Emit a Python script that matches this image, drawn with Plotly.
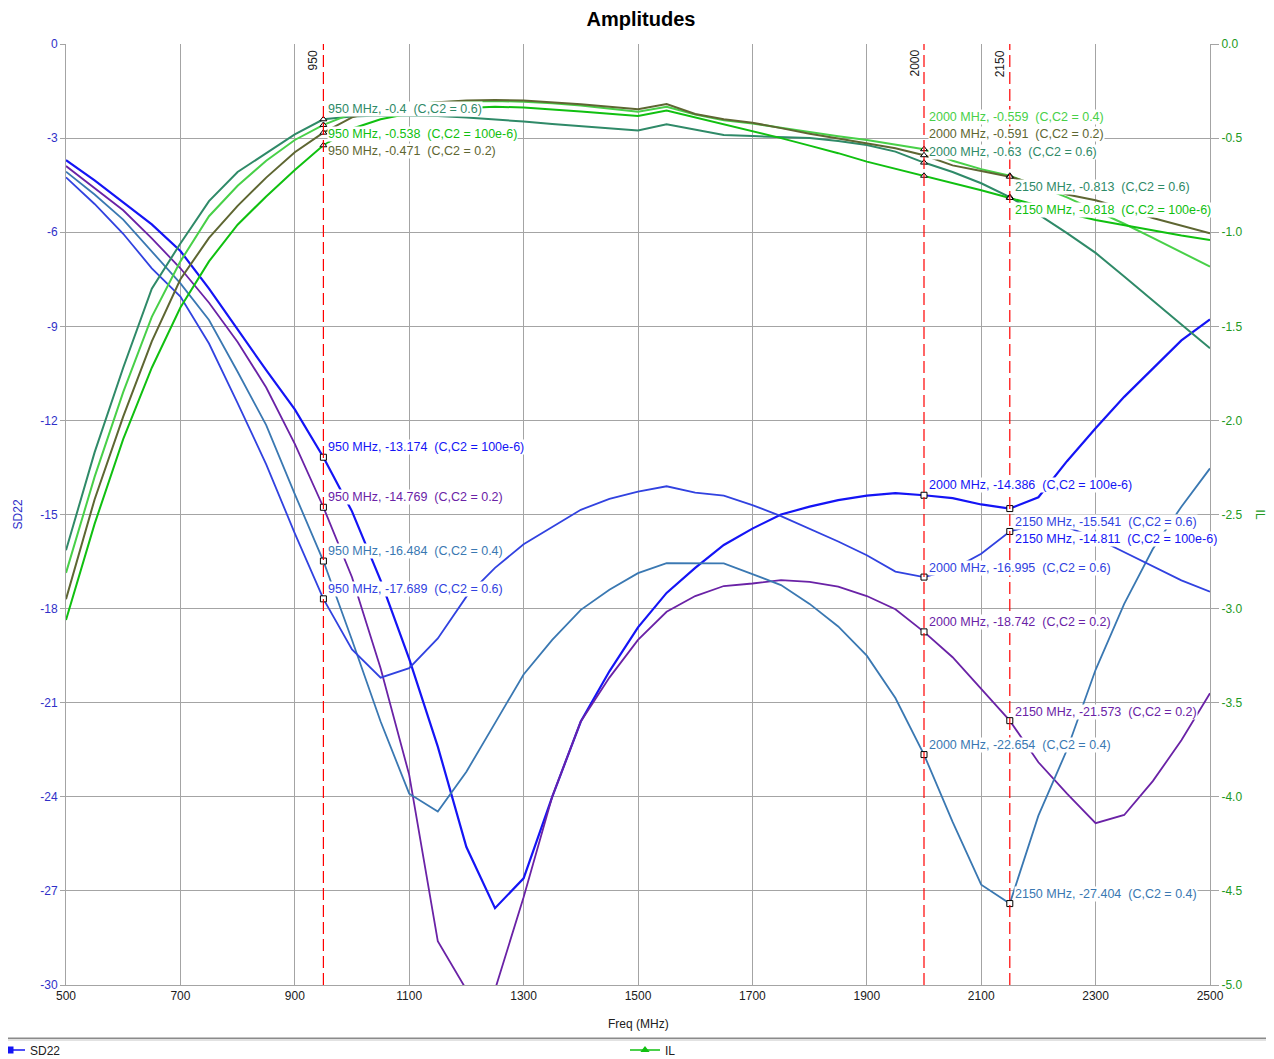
import plotly.graph_objects as go

# ---------------- data ----------------
freq = [500, 550, 600, 650, 700, 750, 800, 850, 900, 950,
        1000, 1050, 1100, 1150, 1200, 1250, 1300, 1350, 1400, 1450,
        1500, 1550, 1600, 1650, 1700, 1750, 1800, 1850, 1900, 1950,
        2000, 2050, 2100, 2150, 2200, 2250, 2300, 2350, 2400, 2450, 2500]

# SD22 (left axis, dB)
sd22_c100e6 = [-3.7, -4.35, -5.05, -5.75, -6.6, -7.8, -9.1, -10.4, -11.65, -13.174,
               -14.9, -17.1, -19.6, -22.4, -25.6, -27.55, -26.6, -24.0, -21.6, -20.0,
               -18.6, -17.5, -16.7, -15.97, -15.45, -15.0, -14.75, -14.54, -14.4, -14.32,
               -14.386, -14.48, -14.68, -14.811, -14.45, -13.3, -12.25, -11.25, -10.35, -9.45, -8.78]
sd22_c02 = [-3.89, -4.6, -5.3, -6.2, -7.15, -8.25, -9.5, -10.95, -12.75, -14.769,
            -17.0, -19.9, -23.3, -28.6, -30.15, -30.15, -27.2, -24.0, -21.6, -20.2,
            -19.0, -18.1, -17.6, -17.28, -17.2, -17.09, -17.15, -17.3, -17.6, -18.02,
            -18.742, -19.55, -20.55, -21.573, -22.9, -23.9, -24.84, -24.58, -23.5, -22.2, -20.7]
sd22_c04 = [-4.07, -4.8, -5.6, -6.6, -7.63, -8.8, -10.45, -12.15, -14.35, -16.484,
            -19.0, -21.6, -23.9, -24.47, -23.2, -21.65, -20.1, -19.0, -18.04, -17.4,
            -16.87, -16.55, -16.55, -16.56, -16.9, -17.25, -17.85, -18.57, -19.5, -20.85,
            -22.654, -24.8, -26.8, -27.404, -24.6, -22.5, -19.95, -17.85, -16.1, -14.75, -13.53]
sd22_c06 = [-4.25, -5.1, -6.05, -7.15, -8.05, -9.55, -11.45, -13.4, -15.6, -17.689,
            -19.3, -20.2, -19.9, -18.95, -17.62, -16.7, -15.95, -15.4, -14.85, -14.5,
            -14.27, -14.1, -14.3, -14.4, -14.7, -15.05, -15.45, -15.86, -16.3, -16.82,
            -16.995, -16.75, -16.25, -15.541, -15.3, -15.4, -15.75, -16.2, -16.65, -17.1, -17.46]

# IL (right axis, dB)
il_c06 = [-2.69, -2.17, -1.72, -1.30, -1.06, -0.835, -0.68, -0.58, -0.48, -0.4,
          -0.385, -0.38, -0.38, -0.383, -0.39, -0.40, -0.412, -0.425, -0.437, -0.45,
          -0.46, -0.427, -0.457, -0.484, -0.489, -0.495, -0.50, -0.515, -0.537, -0.572,
          -0.63, -0.68, -0.74, -0.813, -0.905, -1.005, -1.11, -1.235, -1.36, -1.49, -1.617]
il_c04 = [-2.81, -2.30, -1.85, -1.45, -1.155, -0.915, -0.753, -0.62, -0.51, -0.43,
          -0.37, -0.34, -0.32, -0.31, -0.305, -0.303, -0.307, -0.315, -0.327, -0.343,
          -0.36, -0.333, -0.375, -0.405, -0.422, -0.445, -0.468, -0.49, -0.51, -0.533,
          -0.559, -0.62, -0.665, -0.70, -0.755, -0.815, -0.885, -0.955, -1.03, -1.105, -1.183]
il_c02 = [-2.95, -2.42, -1.98, -1.58, -1.25, -1.03, -0.86, -0.71, -0.575, -0.471,
          -0.39, -0.35, -0.325, -0.31, -0.30, -0.298, -0.30, -0.308, -0.32, -0.333,
          -0.347, -0.319, -0.372, -0.40, -0.418, -0.447, -0.477, -0.502, -0.528, -0.554,
          -0.591, -0.645, -0.675, -0.705, -0.75, -0.80, -0.83, -0.875, -0.925, -0.966, -1.006]
il_c100e6 = [-3.06, -2.55, -2.10, -1.72, -1.40, -1.155, -0.96, -0.81, -0.67, -0.538,
             -0.45, -0.40, -0.37, -0.35, -0.34, -0.333, -0.338, -0.347, -0.358, -0.37,
             -0.383, -0.354, -0.39, -0.43, -0.466, -0.50, -0.54, -0.58, -0.625, -0.662,
             -0.70, -0.737, -0.777, -0.818, -0.86, -0.90, -0.935, -0.963, -0.992, -1.018, -1.041]

marker_freqs = [950, 2000, 2150]
x_ticks = [500, 700, 900, 1100, 1300, 1500, 1700, 1900, 2100, 2300, 2500]
y_ticks_left = [0, -3, -6, -9, -12, -15, -18, -21, -24, -27, -30]
y_ticks_right = [0.0, -0.5, -1.0, -1.5, -2.0, -2.5, -3.0, -3.5, -4.0, -4.5, -5.0]

# ---------------- styles ----------------
FONT = "Liberation Sans, Arial, sans-serif"
LBL = 12.5
sd22 = {
    "100e-6": (sd22_c100e6, "#1414f5", 2.2),
    "0.2": (sd22_c02, "#6a22a6", 1.8),
    "0.4": (sd22_c04, "#3a78b2", 1.8),
    "0.6": (sd22_c06, "#3142e0", 1.8),
}
il = {
    "0.6": (il_c06, "#2f8a68", 2.0),
    "0.4": (il_c04, "#48d048", 2.0),
    "0.2": (il_c02, "#5e6632", 2.0),
    "100e-6": (il_c100e6, "#10c010", 2.0),
}
# label placement: (series key, freq, vertical pixel shift)
sd22_labels = [("100e-6", 950, 10), ("0.2", 950, 10), ("0.4", 950, 10), ("0.6", 950, 10),
               ("100e-6", 2000, 10), ("0.6", 2000, 9), ("0.2", 2000, 10), ("0.4", 2000, 10),
               ("0.6", 2150, 9), ("100e-6", 2150, -30), ("0.2", 2150, 9), ("0.4", 2150, 10)]
il_labels = [("0.6", 950, 10), ("100e-6", 950, 11), ("0.2", 950, -18),
             ("0.4", 2000, 32), ("0.2", 2000, 21), ("0.6", 2000, 11),
             ("0.6", 2150, 10), ("100e-6", 2150, -12)]

# page body has an 8px margin: figure is 1266x1051 so the plot lands where the reference has it
W, H = 1266, 1051
PW, PH = 1144, 941  # plot area size in px

fig = go.Figure()

for key, (vals, col, w) in il.items():
    fig.add_trace(go.Scatter(x=freq, y=vals, yaxis="y2", mode="lines",
                             line=dict(color=col, width=w), showlegend=False,
                             hoverinfo="skip"))
for key, (vals, col, w) in sd22.items():
    fig.add_trace(go.Scatter(x=freq, y=vals, yaxis="y", mode="lines",
                             line=dict(color=col, width=w), showlegend=False,
                             hoverinfo="skip"))

# markers at marker frequencies
for key, (vals, col, w) in sd22.items():
    fig.add_trace(go.Scatter(x=marker_freqs, y=[vals[freq.index(f)] for f in marker_freqs],
                             yaxis="y", mode="markers", showlegend=False, hoverinfo="skip",
                             marker=dict(symbol="square", size=6, color="white",
                                         line=dict(color="black", width=1))))
for key, (vals, col, w) in il.items():
    fig.add_trace(go.Scatter(x=marker_freqs, y=[vals[freq.index(f)] for f in marker_freqs],
                             yaxis="y2", mode="markers", showlegend=False, hoverinfo="skip",
                             marker=dict(symbol="triangle-up", size=6, color="white",
                                         line=dict(color="black", width=1))))

# legend-only entries
fig.add_trace(go.Scatter(x=[None], y=[None], mode="lines+markers", name="SD22",
                         legend="legend",
                         line=dict(color="#1414f5", width=1.5),
                         marker=dict(symbol="square", size=7, color="#1414f5")))
fig.add_trace(go.Scatter(x=[None], y=[None], mode="lines+markers", name="IL", yaxis="y2",
                         legend="legend2",
                         line=dict(color="#10c010", width=1.5),
                         marker=dict(symbol="triangle-up", size=8, color="#10c010")))

annotations = []
NB = "\u00a0"
for key, f, ys in sd22_labels:
    vals, col, _ = sd22[key]
    v = vals[freq.index(f)]
    annotations.append(dict(x=f, y=v, xref="x", yref="y", xanchor="left", yanchor="middle",
                            xshift=4, yshift=ys, showarrow=False, bgcolor="white", borderpad=0,
                            text=f"{f} MHz, {v:g}{NB}{NB}(C,C2 = {key})",
                            font=dict(family=FONT, size=LBL, color=col)))
for key, f, ys in il_labels:
    vals, col, _ = il[key]
    v = vals[freq.index(f)]
    annotations.append(dict(x=f, y=v, xref="x", yref="y2", xanchor="left", yanchor="middle",
                            xshift=4, yshift=ys, showarrow=False, bgcolor="white", borderpad=0,
                            text=f"{f} MHz, {v:g}{NB}{NB}(C,C2 = {key})",
                            font=dict(family=FONT, size=LBL, color=col)))
for f in marker_freqs:
    annotations.append(dict(x=f, y=1, xref="x", yref="paper", xanchor="right", yanchor="top",
                            xshift=-1, yshift=-4, textangle=-90, showarrow=False,
                            text=str(f), font=dict(family=FONT, size=12, color="#202020")))
# axis titles
annotations += [
    dict(x=0.5, y=-0.0415, xref="paper", yref="paper", showarrow=False, text="Freq (MHz)",
         xanchor="center", yanchor="middle", font=dict(family=FONT, size=12, color="#202020")),
    dict(x=-0.042, y=0.5, xref="paper", yref="paper", showarrow=False, text="SD22",
         textangle=-90, xanchor="center", yanchor="middle",
         font=dict(family=FONT, size=12, color="#3030c8")),
    dict(x=1.0445, y=0.5, xref="paper", yref="paper", showarrow=False, text="IL",
         textangle=90, xanchor="center", yanchor="middle",
         font=dict(family=FONT, size=12, color="#229922")),
]

shapes = []
for f in marker_freqs:
    shapes.append(dict(type="line", xref="x", yref="paper", x0=f, x1=f, y0=0, y1=1,
                       line=dict(color="#ff0000", width=1.2, dash="12px,5px")))
shapes.append(dict(type="line", xref="paper", yref="paper", x0=-0.06, x1=1.06,
                   y0=-0.0565, y1=-0.0565, line=dict(color="#8a8a8a", width=1.5)))
shapes.append(dict(type="line", xref="paper", yref="paper", x0=-0.06, x1=1.06,
                   y0=-0.0585, y1=-0.0585, line=dict(color="#d8d8d8", width=1.5)))

GRID = "#a4a4a4"
legend_common = dict(orientation="h", xref="paper", yref="paper", y=-65 / PH,
                     xanchor="left", yanchor="middle",
                     font=dict(family=FONT, size=12, color="#202020"),
                     bgcolor="rgba(0,0,0,0)", itemwidth=30)
fig.update_layout(
    width=W, height=H,
    margin=dict(l=58, r=64, t=36, b=74, autoexpand=False),
    paper_bgcolor="white", plot_bgcolor="white",
    font=dict(family=FONT, size=12, color="#202020"),
    title=dict(text="<b>Amplitudes</b>", x=0.5, xanchor="center", y=1 - 11 / H,
               yanchor="middle", font=dict(family=FONT, size=20, color="black")),
    xaxis=dict(range=[500, 2500], tickvals=x_ticks, ticktext=[str(v) for v in x_ticks],
               showgrid=True, gridcolor=GRID,
               gridwidth=1, zeroline=False, showline=True, linecolor=GRID, linewidth=1,
               ticks="", tickfont=dict(family=FONT, size=12, color="#202020")),
    yaxis=dict(range=[-30, 0], tickvals=y_ticks_left,
               ticktext=[f"{v:g}" for v in y_ticks_left],
               showgrid=True, gridcolor=GRID, gridwidth=1,
               zeroline=False, showline=True, linecolor=GRID, ticks="outside", ticklen=5,
               tickcolor=GRID, tickfont=dict(family=FONT, size=12, color="#3030c8")),
    yaxis2=dict(range=[-5, 0], tickvals=y_ticks_right,
                ticktext=[f"{v:.1f}" for v in y_ticks_right], overlaying="y",
                side="right", showgrid=False, zeroline=False, showline=True, linecolor=GRID,
                ticks="outside", ticklen=8, tickcolor=GRID,
                tickfont=dict(family=FONT, size=12, color="#229922")),
    showlegend=True,
    legend=dict(x=-76 / PW, **legend_common),
    legend2=dict(x=559 / PW, **legend_common),
    annotations=annotations,
    shapes=shapes,
)

fig.write_html("out.html")
